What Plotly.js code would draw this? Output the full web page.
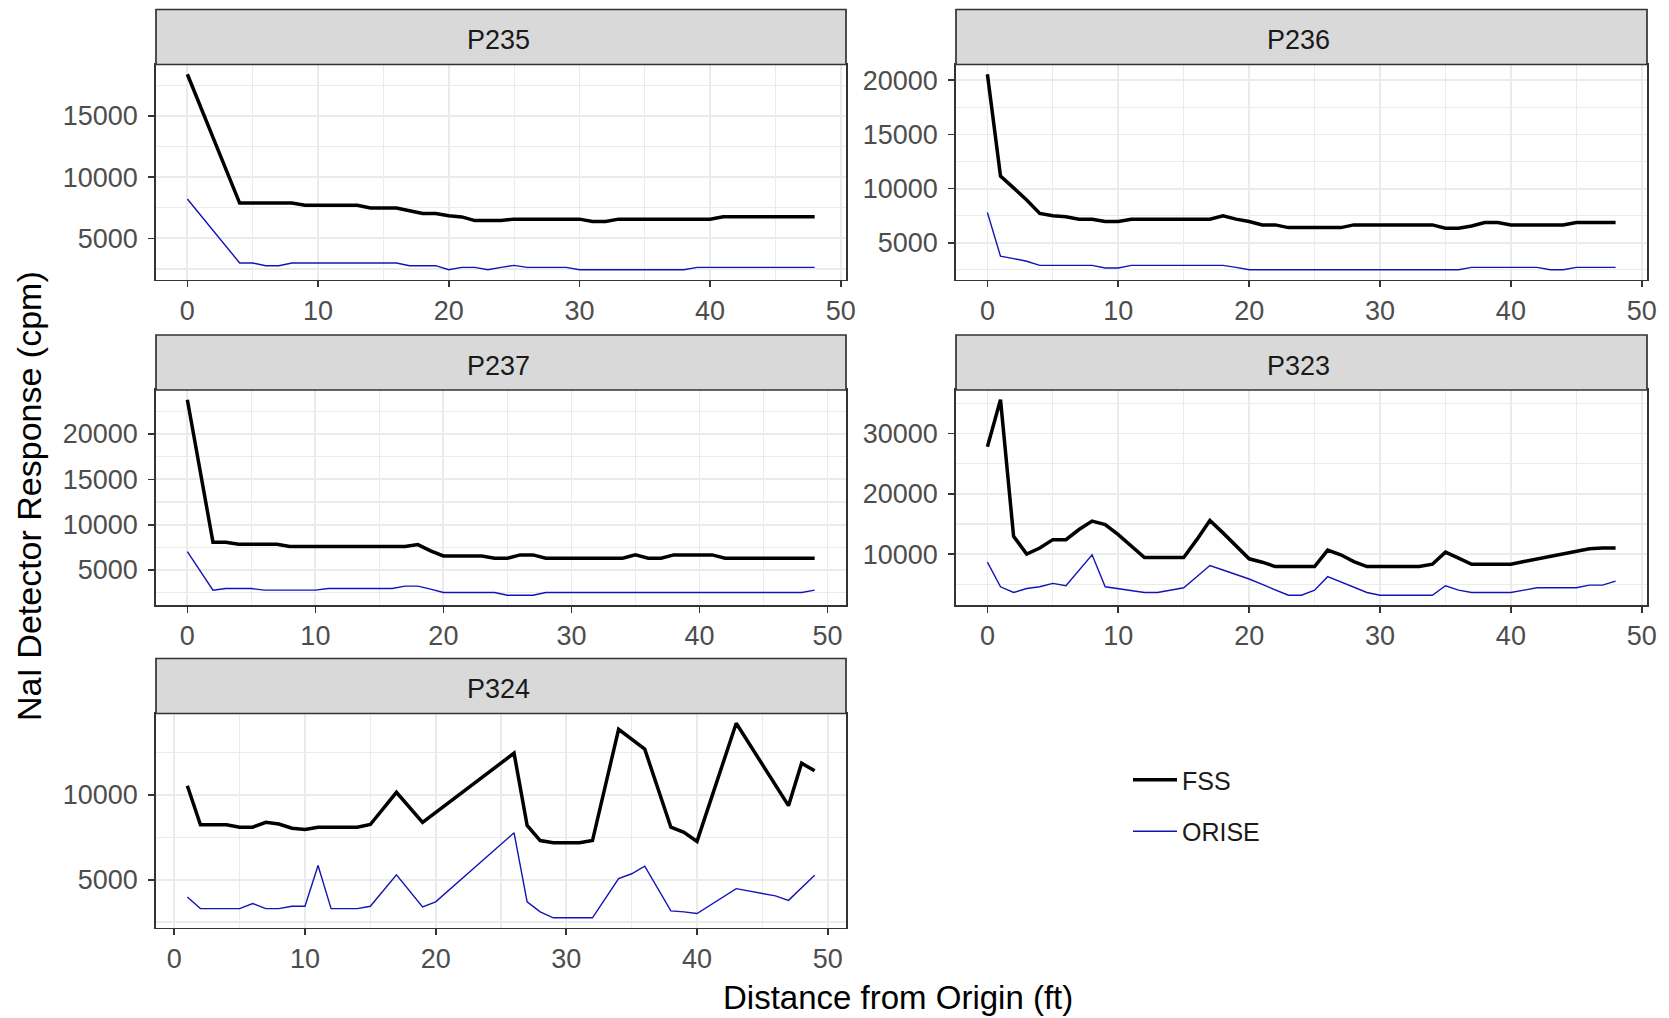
<!DOCTYPE html>
<html><head><meta charset="utf-8">
<script src="https://cdn.plot.ly/plotly-3.0.1.min.js"></script>
<style>html,body{margin:0;padding:0;background:#fff}#chart{width:1669px;height:1018px}</style>
</head><body><div id="chart"></div>
<script>
// ---------------- data ----------------
const panelNames = ["P235", "P236", "P237", "P323", "P324"];
const seriesNames = ["FSS", "ORISE"];

const p235_x = [0,4,5,6,7,8,9,10,11,12,13,14,15,16,17,18,19,20,21,22,23,24,25,26,27,28,29,30,31,32,33,34,35,36,37,38,39,40,41,42,43,44,45,46,47,48];
const p235_fss = [18380,7880,7880,7880,7880,7880,7700,7700,7700,7700,7700,7480,7480,7480,7250,7030,7030,6850,6750,6450,6450,6450,6570,6570,6570,6570,6570,6570,6380,6380,6570,6570,6570,6570,6570,6570,6570,6570,6760,6760,6760,6760,6760,6760,6760,6760];
const p235_orise = [8210,2995,2995,2775,2775,2995,2995,2995,2995,2995,2995,2995,2995,2995,2775,2775,2775,2445,2637,2637,2445,2637,2800,2637,2637,2637,2637,2445,2445,2445,2445,2445,2445,2445,2445,2445,2637,2637,2637,2637,2637,2637,2637,2637,2637,2637];

const p236_x = [0,1,2,3,4,5,6,7,8,9,10,11,12,13,14,15,16,17,18,19,20,21,22,23,24,25,26,27,28,29,30,31,32,33,34,35,36,37,38,39,40,41,42,43,44,45,46,47,48];
const p236_fss = [20560,11160,10070,8950,7710,7490,7400,7180,7180,6960,6960,7180,7180,7180,7180,7180,7180,7180,7490,7180,6960,6650,6650,6400,6400,6400,6400,6400,6650,6650,6650,6650,6650,6650,6650,6340,6340,6555,6870,6870,6650,6650,6650,6650,6650,6870,6870,6870,6870];
const p236_orise = [7800,3755,3540,3290,2915,2915,2915,2915,2915,2670,2670,2915,2915,2915,2915,2915,2915,2915,2915,2730,2510,2510,2510,2510,2510,2510,2510,2510,2510,2510,2510,2510,2510,2510,2510,2510,2510,2730,2730,2730,2730,2730,2730,2510,2510,2730,2730,2730,2730];

const p237_x = [0,2,3,4,5,6,7,8,9,10,11,12,13,14,15,16,17,18,19,20,21,22,23,24,25,26,27,28,29,30,31,32,33,34,35,36,37,38,39,40,41,42,43,44,45,46,47,48,49];
const p237_fss = [23780,8070,8070,7850,7850,7850,7850,7590,7590,7590,7590,7590,7590,7590,7590,7590,7590,7800,7110,6555,6555,6555,6555,6300,6300,6670,6670,6300,6300,6300,6300,6300,6300,6300,6670,6300,6300,6670,6670,6670,6670,6300,6300,6300,6300,6300,6300,6300,6300];
const p237_orise = [7040,2780,2960,2960,2960,2780,2780,2780,2780,2780,2960,2960,2960,2960,2960,2960,3220,3220,2900,2520,2520,2520,2520,2520,2220,2220,2220,2520,2520,2520,2520,2520,2520,2520,2520,2520,2520,2520,2520,2520,2520,2520,2520,2520,2520,2520,2520,2520,2780];

const p323_x = [0,1,2,3,4,5,6,7,8,9,10,11,12,13,14,15,16,17,18,19,20,21,22,23,24,25,26,27,28,29,30,31,32,33,34,35,36,37,38,39,40,41,42,43,44,45,46,47,48];
const p323_fss = [27800,35600,12960,10000,11000,12400,12400,14080,15480,14900,13240,11290,9440,9440,9440,9440,12400,15590,13520,11290,9220,8660,7930,7930,7930,7930,10670,9890,8770,7930,7930,7930,7930,7930,8320,10330,9330,8320,8320,8320,8320,8770,9220,9550,10000,10450,10890,11000,11000];
const p323_orise = [8660,4580,3630,4300,4580,5140,4750,7370,9890,4580,4300,4020,3630,3630,4020,4410,6260,8100,7370,6650,5870,4970,4020,3180,3180,4020,6260,5420,4580,3630,3180,3180,3180,3180,3180,4750,4020,3630,3630,3630,3630,4020,4410,4410,4410,4410,4860,4860,5530];

const p324_fss_x = [1,2,3,4,5,6,7,8,9,10,11,12,13,14,15,17,19,26,27,28,29,30,31,32,34,36,38,39,40,43,47,48,49];
const p324_fss = [10550,8240,8240,8240,8100,8100,8390,8290,8040,7960,8100,8100,8100,8100,8260,10160,8390,12470,8200,7310,7180,7180,7180,7310,13880,12710,8100,7800,7260,14240,9370,11880,11430];
const p324_orise_x = [1,2,3,4,5,6,7,8,9,10,11,12,13,14,15,17,19,20,26,27,28,29,30,31,32,34,35,36,38,39,40,43,46,47,49];
const p324_orise = [3980,3290,3290,3290,3290,3590,3290,3290,3430,3430,5840,3290,3290,3290,3430,5290,3390,3690,7770,3690,3100,2750,2750,2750,2750,5060,5350,5800,3160,3100,3000,4470,4040,3780,5260];

const yDtick = [5000, 5000, 5000, 10000, 5000];

// ---------------- build ----------------
const panelData = [
  {fx: p235_x, fy: p235_fss, ox: p235_x, oy: p235_orise},
  {fx: p236_x, fy: p236_fss, ox: p236_x, oy: p236_orise},
  {fx: p237_x, fy: p237_fss, ox: p237_x, oy: p237_orise},
  {fx: p323_x, fy: p323_fss, ox: p323_x, oy: p323_orise},
  {fx: p324_fss_x, fy: p324_fss, ox: p324_orise_x, oy: p324_orise}
];

const W = 1669, H = 1018;
const cols = [[156, 846], [956, 1647]];
const rows = [[64.5, 279.5], [390, 605], [713.5, 927.5]];
const stripH = 55;
const FONT = '"Liberation Sans", Arial, sans-serif';
const colorFSS = '#000000', colorORISE = '#1414B4';

function expanded(arrs) {
  const all = [].concat(...arrs);
  const mn = Math.min(...all), mx = Math.max(...all);
  const pad = 0.05 * (mx - mn);
  return [mn - pad, mx + pad];
}

const traces = [];
const layout = {
  width: W, height: H,
  margin: {l: 0, r: 0, t: 0, b: 0},
  paper_bgcolor: '#ffffff', plot_bgcolor: '#ffffff',
  font: {family: FONT, color: '#4D4D4D'},
  showlegend: true,
  legend: {
    x: 1128 / W, xanchor: 'left', y: 1 - 757 / H, yanchor: 'top',
    font: {family: FONT, size: 25, color: '#1A1A1A'},
    bgcolor: 'rgba(0,0,0,0)', traceorder: 'grouped', tracegroupgap: 16, itemwidth: 44
  },
  shapes: [], annotations: []
};

panelData.forEach((p, i) => {
  const c = i % 2, r = Math.floor(i / 2);
  const xs = (i === 0 ? '' : String(i + 1));
  const xr = expanded([p.fx, p.ox]);
  const yr = expanded([p.fy, p.oy]);
  traces.push({
    x: p.fx, y: p.fy, type: 'scatter', mode: 'lines', name: seriesNames[0],
    legendgroup: seriesNames[0], showlegend: i === 0,
    line: {color: colorFSS, width: 3.5}, xaxis: 'x' + xs, yaxis: 'y' + xs, hoverinfo: 'x+y'
  });
  traces.push({
    x: p.ox, y: p.oy, type: 'scatter', mode: 'lines', name: seriesNames[1],
    legendgroup: seriesNames[1], showlegend: i === 0,
    line: {color: colorORISE, width: 1.4}, xaxis: 'x' + xs, yaxis: 'y' + xs, hoverinfo: 'x+y'
  });
  const common = {
    ticks: 'outside', ticklen: 6, tickwidth: 1.7, tickcolor: '#333333',
    showline: true, mirror: true, linecolor: '#333333', linewidth: 1.7,
    showgrid: true, gridcolor: '#EBEBEB', gridwidth: 1.8, zeroline: false,
    tickfont: {family: FONT, size: 27, color: '#4D4D4D'},
    exponentformat: 'none', tickformat: 'd', fixedrange: true
  };
  layout['xaxis' + xs] = Object.assign({}, common, {
    domain: [cols[c][0] / W, cols[c][1] / W], range: xr, anchor: 'y' + xs,
    tickmode: 'linear', tick0: 0, dtick: 10, ticklabelstandoff: 0,
    minor: {dtick: 5, tick0: 0, showgrid: true, gridcolor: '#EBEBEB', gridwidth: 1.1, ticks: ''}
  });
  layout['yaxis' + xs] = Object.assign({}, common, {
    domain: [1 - rows[r][1] / H, 1 - rows[r][0] / H], range: yr, anchor: 'x' + xs,
    tickmode: 'linear', tick0: 0, dtick: yDtick[i], ticklabelstandoff: 5,
    minor: {dtick: yDtick[i] / 2, tick0: 0, showgrid: true, gridcolor: '#EBEBEB', gridwidth: 1.1, ticks: ''}
  });
  // strip
  layout.shapes.push({
    type: 'rect', xref: 'paper', yref: 'paper',
    x0: cols[c][0] / W, x1: cols[c][1] / W,
    y0: 1 - rows[r][0] / H, y1: 1 - (rows[r][0] - stripH) / H,
    fillcolor: '#D9D9D9', line: {color: '#333333', width: 1.7}
  });
  layout.annotations.push({
    xref: 'paper', yref: 'paper', x: (cols[c][0] + cols[c][1]) / 2 / W - 3 / W,
    y: 1 - (rows[r][0] - stripH / 2 + 3) / H, text: panelNames[i], showarrow: false,
    xanchor: 'center', yanchor: 'middle', font: {family: FONT, size: 27, color: '#1A1A1A'}
  });
});

layout.annotations.push({
  xref: 'paper', yref: 'paper', x: 898 / W, y: 1 - 997 / H,
  text: 'Distance from Origin (ft)', showarrow: false, xanchor: 'center', yanchor: 'middle',
  font: {family: FONT, size: 33, color: '#000000'}
});
layout.annotations.push({
  xref: 'paper', yref: 'paper', x: 29 / W, y: 1 - 496 / H, textangle: -90,
  text: 'NaI Detector Response (cpm)', showarrow: false, xanchor: 'center', yanchor: 'middle',
  font: {family: FONT, size: 34, color: '#000000'}
});

Plotly.newPlot('chart', traces, layout, {staticPlot: true, displayModeBar: false});
</script>
</body></html>
